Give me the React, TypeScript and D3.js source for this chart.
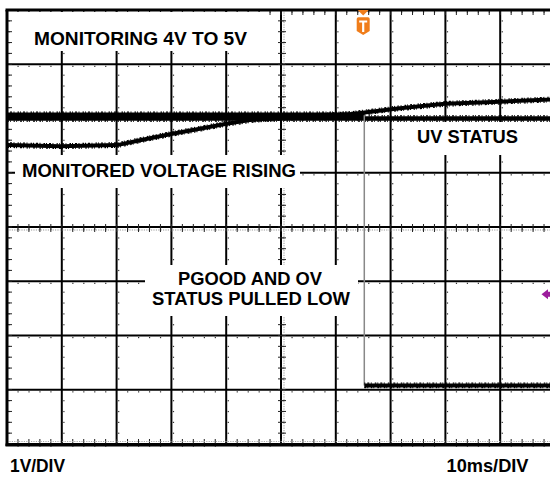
import React from 'react';
import * as d3 from 'd3';

const W = 550;
const H = 478;

// time in ms (10 ms/div), voltage in divisions (1 V/div)
const timeGrid = d3.range(0, 101, 10);
const voltGrid = d3.range(0, 9, 1);
const timeMinor = d3.range(0, 100.001, 2);
const voltMinor = d3.range(0, 8.001, 0.2);

const monitoredT = [0, 9.7, 20.1, 24.3, 29.7, 35.2, 39.8, 44.3, 49.8, 57.1, 62.6, 71.7, 79.9, 90, 99.1, 100];
const monitoredV = [5.51, 5.49, 5.51, 5.6, 5.71, 5.81, 5.9, 5.97, 6.01, 6.05, 6.08, 6.19, 6.27, 6.31, 6.35, 6.36];

const uvT = [0, 100];
const uvV = [6.0, 6.0];

const pgoodHighT = [0, 65.2];
const pgoodHighV = [6.07, 6.07];
const pgoodLowT = [65.2, 100];
const pgoodLowV = [1.08, 1.08];

const triggerT = 65;
const refLevelV = 2.76;

const x = d3.scaleLinear().domain([0, 100]).range([7, 555]);
const y = d3.scaleLinear().domain([0, 8]).range([444, 10]);

const line = d3
  .line<[number, number]>()
  .x((d) => x(d[0]))
  .y((d) => y(d[1]));

const zip = (a: number[], b: number[]): [number, number][] => a.map((v, i) => [v, b[i]]);

const FONT = "'Liberation Sans', Arial, Helvetica, sans-serif";

const boxes = [
  { x0: 12, y0: 12, x1: 260, y1: 51 },
  { x0: 400, y0: 122, x1: 560, y1: 155 },
  { x0: 15, y0: 155, x1: 300, y1: 188 },
  { x0: 145, y0: 265, x1: 358, y1: 316 },
];

const labels = [
  { text: 'MONITORING 4V TO 5V', x: 34, y: 45, len: 213, anchor: 'start' },
  { text: 'UV STATUS', x: 417, y: 143.3, len: 101, anchor: 'start' },
  { text: 'MONITORED VOLTAGE RISING', x: 22, y: 177, len: 274, anchor: 'start' },
  { text: 'PGOOD AND OV', x: 250, y: 285, len: 144, anchor: 'middle' },
  { text: 'STATUS PULLED LOW', x: 251, y: 304.5, len: 198, anchor: 'middle' },
  { text: '1V/DIV', x: 10, y: 472, len: 55, anchor: 'start' },
  { text: '10ms/DIV', x: 446.5, y: 472, len: 82, anchor: 'start' },
];

function Trace({ d, w = 4.5 }: { d: string; w?: number }) {
  const off = w / 2 + 0.3;
  return (
    <g fill="none" stroke="#000" strokeLinejoin="round">
      <path d={d} strokeWidth={w} />
      <path d={d} transform={`translate(0,${-off})`} strokeWidth={1.2} strokeDasharray="1 2 2 1.5 1 3 1.5 1" />
      <path d={d} transform={`translate(0,${off})`} strokeWidth={1.2} strokeDasharray="2 1 1 2.5 1.5 1 1 3" />
    </g>
  );
}

export default function App() {
  const xc = x(50);
  const yc = y(4);
  const top = y(8);
  const bottom = y(0);
  const left = x(0);

  return (
    <svg
      width={W}
      height={H}
      viewBox={`0 0 ${W} ${H}`}
      style={{ position: 'absolute', left: 0, top: 0, background: '#fff' }}
    >
      <rect x={0} y={0} width={W} height={H} fill="#fff" />

      {/* minor dots along grid lines */}
      <g fill="#333">
        {timeGrid.map((t) =>
          voltMinor.map((v, j) =>
            j % 5 === 0 ? null : (
              <rect key={`dv${t}-${j}`} x={x(t) + 1.5} y={y(v) - 0.5} width={1.2} height={1.2} />
            )
          )
        )}
        {voltGrid.map((v) =>
          timeMinor.map((t, j) =>
            j % 5 === 0 ? null : (
              <rect key={`dh${v}-${j}`} x={x(t) - 0.5} y={y(v) + 1.5} width={1.2} height={1.2} />
            )
          )
        )}
      </g>

      {/* major grid */}
      <g stroke="#000" strokeWidth={2}>
        {timeGrid.map((t) => (
          <line key={`gv${t}`} x1={x(t)} x2={x(t)} y1={top} y2={bottom} />
        ))}
        {voltGrid.map((v) => (
          <line key={`gh${v}`} x1={left} x2={x(100)} y1={y(v)} y2={y(v)} />
        ))}
      </g>

      {/* center axes with minor ticks */}
      <g>
        <line x1={left} x2={x(100)} y1={yc + 3} y2={yc + 3} stroke="#999" strokeWidth={1} strokeDasharray="1.2 1.2" />
        <line x1={xc + 3} x2={xc + 3} y1={top} y2={bottom} stroke="#999" strokeWidth={1} strokeDasharray="1.2 1.2" />
        <g stroke="#222" strokeWidth={1}>
          {timeMinor.map((t, j) => (
            <line key={`ct${j}`} x1={x(t)} x2={x(t)} y1={yc - 3} y2={yc + 5} />
          ))}
          {voltMinor.map((v, j) => (
            <line key={`cv${j}`} x1={xc - 3} x2={xc + 5} y1={y(v)} y2={y(v)} />
          ))}
        </g>
      </g>

      {/* border ticks */}
      <g stroke="#222" strokeWidth={1}>
        {timeMinor.map((t, j) => (
          <line key={`tt${j}`} x1={x(t)} x2={x(t)} y1={top} y2={top + 5} />
        ))}
        {timeMinor.map((t, j) => (
          <line key={`bt${j}`} x1={x(t)} x2={x(t)} y1={bottom - 5} y2={bottom} />
        ))}
        {voltMinor.map((v, j) => (
          <line key={`lt${j}`} x1={left} x2={left + 5} y1={y(v)} y2={y(v)} />
        ))}
      </g>
      <line x1={left} x2={x(100)} y1={bottom - 2.5} y2={bottom - 2.5} stroke="#aaa" strokeWidth={1} strokeDasharray="1.2 1.2" />

      {/* frame */}
      <g stroke="#000" strokeWidth={3} fill="none">
        <line x1={left - 1.5} x2={x(100)} y1={top} y2={top} />
        <line x1={left - 1.5} x2={x(100)} y1={bottom + 1} y2={bottom + 1} />
        <line x1={left} x2={left} y1={top} y2={bottom + 2} />
        <line x1={x(100)} x2={x(100)} y1={top} y2={bottom + 2} />
      </g>

      {/* label backgrounds */}
      {boxes.map((b, i) => (
        <rect key={`bx${i}`} x={b.x0} y={b.y0} width={b.x1 - b.x0} height={b.y1 - b.y0} fill="#fff" />
      ))}

      {/* labels */}
      <g fontFamily={FONT} fontWeight="bold" fontSize={18} fill="#000">
        {labels.map((l, i) => (
          <text
            key={`lb${i}`}
            x={l.x}
            y={l.y}
            textAnchor={l.anchor as any}
            textLength={l.len}
            lengthAdjust="spacingAndGlyphs"
          >
            {l.text}
          </text>
        ))}
      </g>

      {/* traces */}
      <Trace d={line(zip(uvT, uvV)) || ''} w={4.5} />
      <Trace d={line(zip(pgoodHighT, pgoodHighV)) || ''} w={4.5} />
      <line
        x1={x(pgoodHighT[1])}
        x2={x(pgoodLowT[0])}
        y1={y(pgoodHighV[1])}
        y2={y(pgoodLowV[0])}
        stroke="#888"
        strokeWidth={1.5}
      />
      <Trace d={line(zip(pgoodLowT, pgoodLowV)) || ''} w={4} />
      <Trace d={line(zip(monitoredT, monitoredV)) || ''} w={4} />

      {/* trigger marker */}
      <g transform={`translate(${x(triggerT)},0)`}>
        <path d="M-5.5,10 L5.5,10 L0,15.5 Z" fill="#f07d1a" />
        <path d="M-6.5,19 Q-6.5,17.3 -4.8,17.3 L4.8,17.3 Q6.5,17.3 6.5,19 L6.5,31 L0,35 L-6.5,31 Z" fill="#f07d1a" />
        <path d="M-4,20.5 L4,20.5 L4,22.6 L1.1,22.6 L1.1,32 L-1.1,32 L-1.1,22.6 L-4,22.6 Z" fill="#fff" />
      </g>

      {/* channel reference marker */}
      <g transform={`translate(0,${y(refLevelV)})`}>
        <path d="M541.5,0 L548,-5 L548,5 Z" fill="#9c1c9c" />
        <rect x={547} y={-2.5} width={4} height={5} fill="#9c1c9c" />
      </g>
    </svg>
  );
}
